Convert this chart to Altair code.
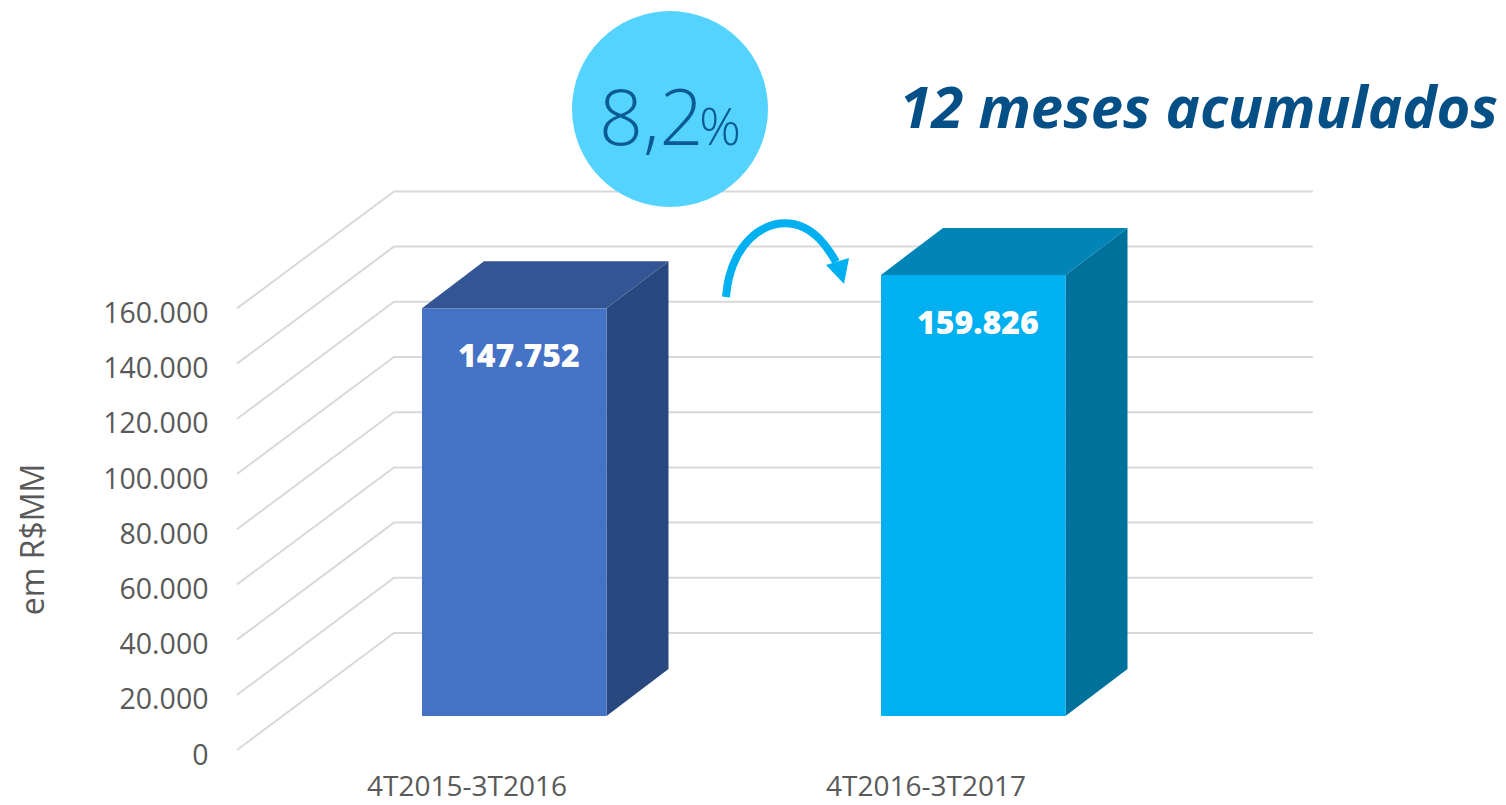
import altair as alt
import pandas as pd

categories = ["4T2015-3T2016", "4T2016-3T2017"]
values = [147752, 159826]
value_labels = ["147.752", "159.826"]
grid_values = [0, 20000, 40000, 60000, 80000, 100000, 120000, 140000, 160000]
front_colors = ["#4472C4", "#00B0F0"]
side_colors = ["#2A4880", "#00719B"]
top_colors = ["#335593", "#0085B6"]

FONT = "Open Sans"
TEXT = "#595959"
K = 0.00276  # pixels per unit of value


def up(px):
    """Screen distance to value units."""
    return px / K


def vy(px):
    """Screen row to value on the y scale."""
    return (750 - px) / K


X = alt.Scale(domain=[8, 1498], range=[0, 1490], nice=False, zero=False)
Y = alt.Scale(domain=[vy(797), vy(8)], range=[789, 0], nice=False, zero=False)
y_axis = alt.Axis(
    values=grid_values,
    grid=False,
    domain=False,
    ticks=False,
    offset=-200,
    labelPadding=0,
    labelFont=FONT,
    labelFontSize=28.5,
    labelColor=TEXT,
    labelOffset=5,
    labelExpr="replace(format(datum.value, ','), ',', '.')",
    title="em R$MM",
    titleFont=FONT,
    titleFontSize=32,
    titleFontWeight="normal",
    titleColor=TEXT,
    titleAngle=270,
    titleAlign="center",
    titleBaseline="middle",
    titleX=-175,
    titleY=531,
)
xe = alt.X("x:Q", scale=X, axis=None)
ye = alt.Y("y:Q", scale=Y, axis=y_axis)
y2e = alt.Y2("y2:Q")
x2e = alt.X2("x2:Q")

# gridlines: floor diagonal then back wall
grid_rows = []
for v in grid_values:
    grid_rows += [
        {"v": v, "x": 237, "y": v, "o": 0},
        {"v": v, "x": 394, "y": v + up(117), "o": 1},
        {"v": v, "x": 1313, "y": v + up(117), "o": 2},
    ]
grid = (
    alt.Chart(pd.DataFrame(grid_rows))
    .mark_line(color="#D9D9D9", strokeWidth=2)
    .encode(x=xe, y=ye, detail="v:N", order="o:Q")
)

FLOOR = up(34)
DEPTH_Y = up(47)
lefts = [422, 881]
BAR_W = 184.5
DEPTH_X = 62

layers = [grid]
for i, v in enumerate(values):
    L, R = lefts[i], lefts[i] + BAR_W
    top = v + FLOOR
    side = pd.DataFrame(
        {"x": [R, R + DEPTH_X], "y": [FLOOR, FLOOR + DEPTH_Y], "y2": [top, top + DEPTH_Y]}
    )
    layers.append(
        alt.Chart(side).mark_area(color=side_colors[i]).encode(x=xe, y=ye, y2=y2e)
    )
    cap = pd.DataFrame(
        {"y": [top, top + DEPTH_Y], "x": [L, L + DEPTH_X], "x2": [R, R + DEPTH_X]}
    )
    layers.append(
        alt.Chart(cap)
        .mark_area(color=top_colors[i], orient="horizontal")
        .encode(x=xe, x2=x2e, y=ye)
    )
    front = pd.DataFrame({"x": [L], "x2": [R], "y": [FLOOR], "y2": [top]})
    layers.append(
        alt.Chart(front)
        .mark_rect(color=front_colors[i])
        .encode(x=xe, x2=x2e, y=ye, y2=y2e)
    )
    lab = pd.DataFrame({"x": [(L + R) / 2], "y": [top], "t": [value_labels[i]]})
    layers.append(
        alt.Chart(lab)
        .mark_text(
            font=FONT, fontSize=32, fontWeight=800, color="white",
            baseline="alphabetic", align="center", dx=4.5, dy=59,
        )
        .encode(x=xe, y=ye, text="t:N")
    )

# category labels
cat = pd.DataFrame({"x": [467, 926], "y": [vy(796)] * 2, "t": categories})
layers.append(
    alt.Chart(cat)
    .mark_text(font=FONT, fontSize=28, color=TEXT, baseline="alphabetic", align="center")
    .encode(x=xe, y=ye, text="t:N")
)

# growth bubble
bubble = pd.DataFrame({"x": [670], "y": [vy(109)]})
layers.append(
    alt.Chart(bubble)
    .mark_point(filled=True, opacity=1, color="#55D3FF", size=38416, shape="circle", strokeWidth=0)
    .encode(x=xe, y=ye)
)
num = pd.DataFrame({"x": [599], "y": [vy(145)], "t": ["8,2"]})
layers.append(
    alt.Chart(num)
    .mark_text(font=FONT, fontSize=77, fontWeight=300, color="#0B5A93", baseline="alphabetic", align="left")
    .encode(x=xe, y=ye, text="t:N")
)
pct = pd.DataFrame({"x": [699], "y": [vy(145)], "t": ["%"]})
layers.append(
    alt.Chart(pct)
    .mark_text(font=FONT, fontSize=52, fontWeight=300, color="#0B5A93", baseline="alphabetic", align="left")
    .encode(x=xe, y=ye, text="t:N")
)

# curved arrow
arc_x = [726, 728, 736, 749, 766, 785, 804, 820, 832, 836]
arc_y = [297, 278, 256, 238, 226, 222, 226, 238, 255, 262]
arc = pd.DataFrame({"x": arc_x, "y": [vy(p) for p in arc_y], "o": range(len(arc_x))})
layers.append(
    alt.Chart(arc)
    .mark_line(color="#00B0F0", strokeWidth=8, interpolate="basis")
    .encode(x=xe, y=ye, order="o:Q")
)
head = pd.DataFrame(
    {"x": [826, 844, 849], "y": [vy(265), vy(259.5), vy(258)], "y2": [vy(265), vy(284), vy(258)]}
)
layers.append(
    alt.Chart(head).mark_area(color="#00B0F0").encode(x=xe, y=ye, y2=y2e)
)

# heading
head_text = pd.DataFrame({"x": [1498], "y": [vy(128)], "t": ["12 meses acumulados"]})
layers.append(
    alt.Chart(head_text)
    .mark_text(font=FONT, fontSize=58, fontWeight="bold", fontStyle="italic", color="#054F87", baseline="alphabetic", align="right")
    .encode(x=xe, y=ye, text="t:N")
)

chart = (
    alt.layer(*layers)
    .properties(width=1490, height=789, padding=0, autosize=alt.AutoSizeParams(type="none"))
    .configure_view(stroke=None)
)

chart.save("out.html", embed_options={"renderer": "svg", "actions": False})
